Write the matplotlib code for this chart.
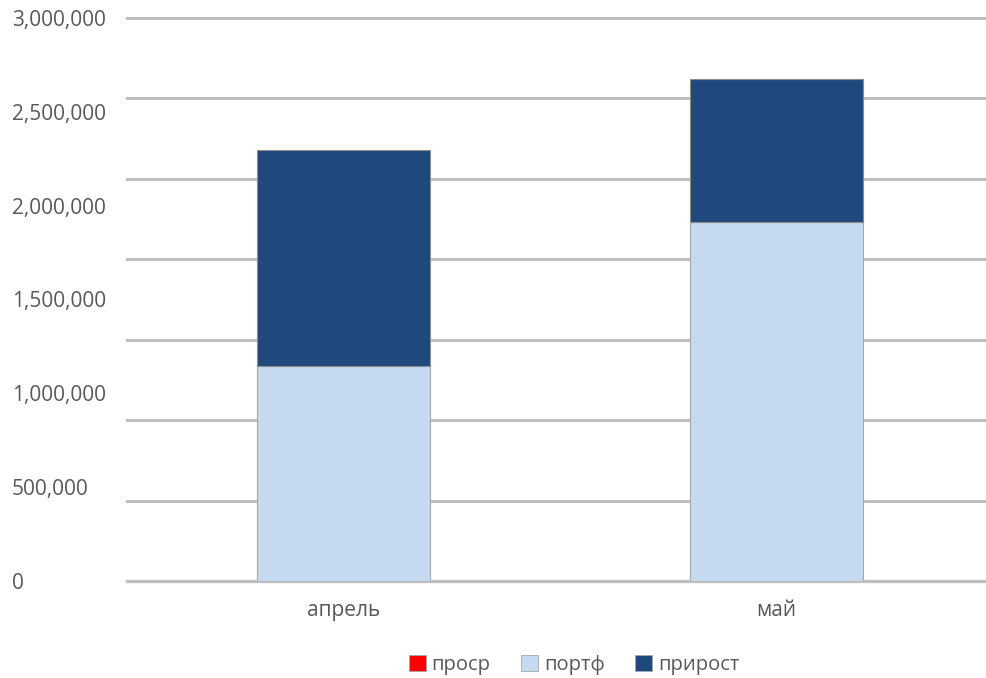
import matplotlib
matplotlib.use("Agg")
import matplotlib.pyplot as plt
from matplotlib.patches import Patch

categories = ["апрель", "май"]
prosr = [0, 0]
portf = [1148000, 1911000]
prirost = [1147000, 763000]
ytick_values = [0, 500000, 1000000, 1500000, 2000000, 2500000, 3000000]
ytick_labels = ["0", "500,000", "1,000,000", "1,500,000", "2,000,000", "2,500,000", "3,000,000"]
legend_labels = ["проср", "портф", "прирост"]

plt.rcParams['font.family'] = ['Open Sans', 'DejaVu Sans']
text_color = "#595959"

fig = plt.figure(figsize=(9.86, 6.78), dpi=100)
ax = fig.add_axes([127/986, 1 - 581/678, 866/986, (581 - 18)/678])

x = list(range(len(categories)))
c_prosr = "#FF0000"
c_portf = "#C5D9F1"
c_prir = "#1F497D"

ax.set_xlim(-0.5, 1.5)
ax.set_ylim(0, 3000000)

# gridlines (the original's gridlines are evenly spaced in 7 steps)
for k in range(8):
    ax.axhline(3000000 * k / 7, color="#BFBFBF", lw=2.4 if k == 0 else 2.2, zorder=1, clip_on=False)

ax.bar(x, portf, width=0.4, color=c_portf, edgecolor="#A6A6A6", linewidth=0.8, zorder=3)
ax.bar(x, prirost, width=0.4, bottom=portf, color=c_prir, edgecolor="#8C8C8C", linewidth=0.8, zorder=3)
ax.bar(x, prosr, width=0.4, bottom=[a + b for a, b in zip(portf, prirost)], color=c_prosr, linewidth=0, zorder=3)

for s in ax.spines.values():
    s.set_visible(False)

ax.set_yticks(ytick_values)
ax.set_yticklabels(ytick_labels)
ax.set_xticks(x)
ax.set_xticklabels(categories)
ax.tick_params(axis="y", length=0, pad=115 * 72 / 100, labelsize=15, labelcolor=text_color)
for lbl in ax.get_yticklabels():
    lbl.set_horizontalalignment("left")
ax.tick_params(axis="x", length=0, pad=14, labelsize=15, labelcolor=text_color)

handles = [Patch(facecolor=c_prosr, edgecolor="#A6A6A6", linewidth=0.6),
           Patch(facecolor=c_portf, edgecolor="#A6A6A6", linewidth=0.6),
           Patch(facecolor=c_prir, edgecolor="#A6A6A6", linewidth=0.6)]
fig.legend(handles, legend_labels, loc="center", bbox_to_anchor=(574/986, 1 - 665/678),
           ncol=3, frameon=False, fontsize=14.5, labelcolor=text_color,
           handlelength=0.85, handleheight=0.85, handletextpad=0.3, columnspacing=1.5)

fig.savefig("out.png", dpi=100)
